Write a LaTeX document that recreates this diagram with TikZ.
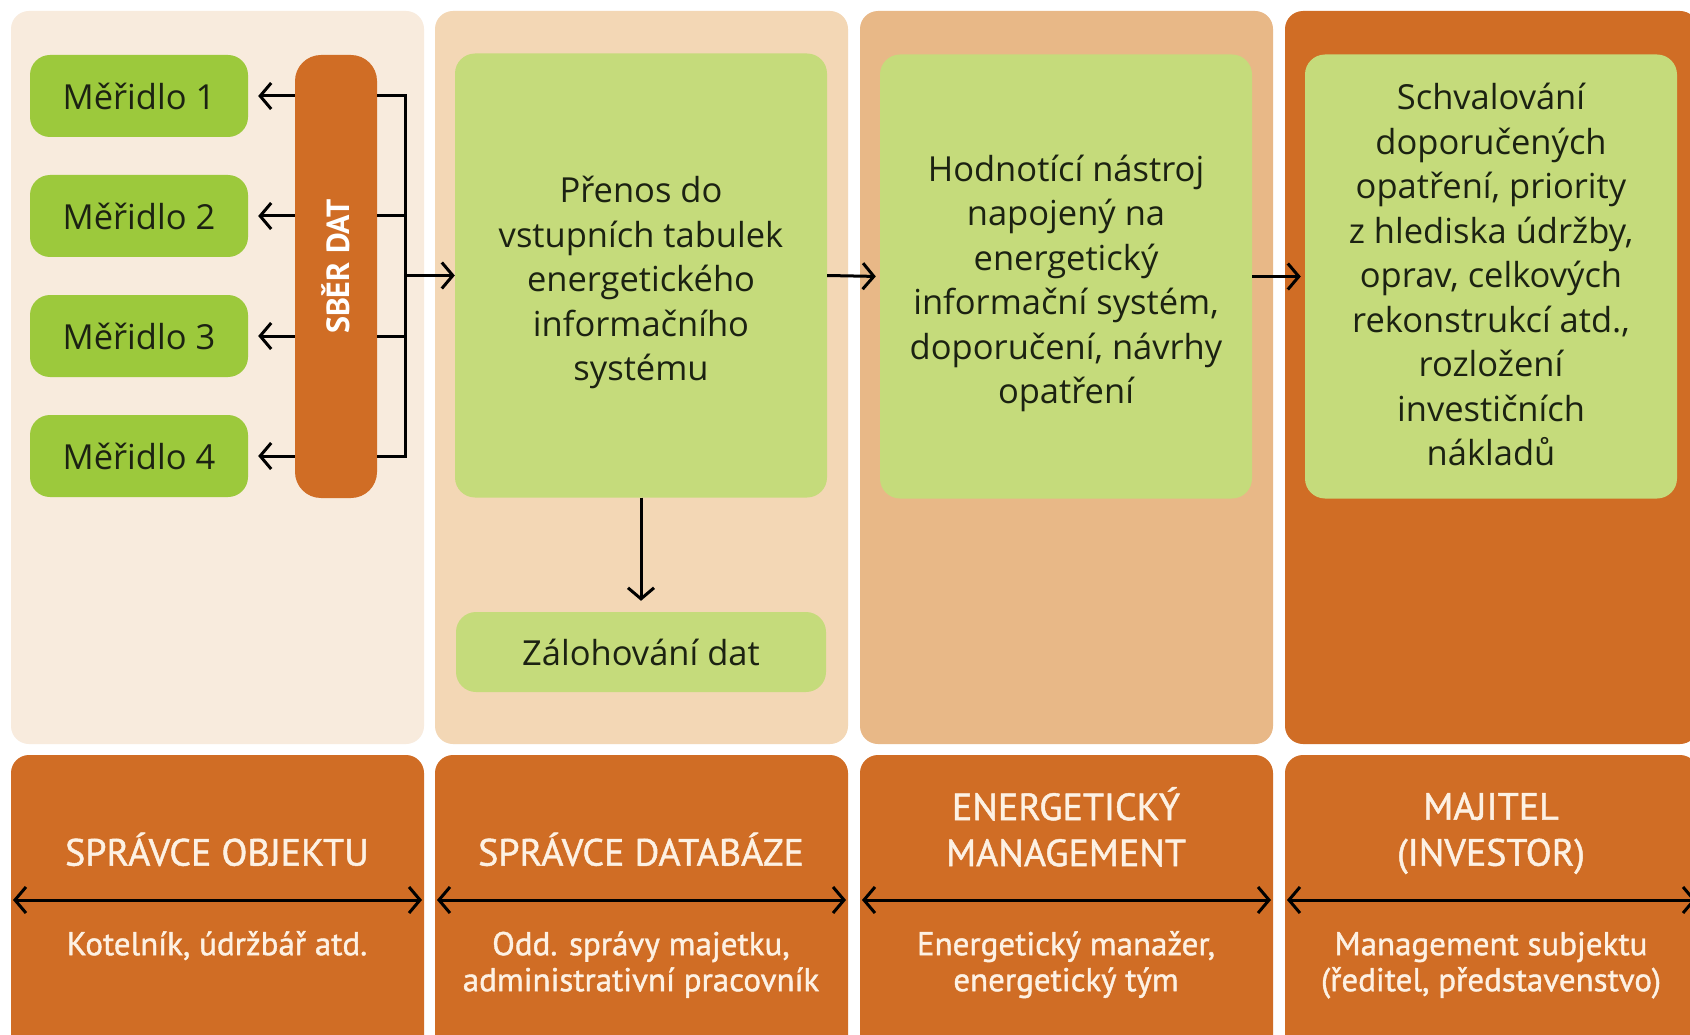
\documentclass[tikz,border=0pt]{standalone}
\usepackage{fontspec}
\setmainfont{Open Sans}
\newfontfamily\narrowfont[FakeBold=1.2]{PT Sans}
\newfontfamily\narrowbold{PT Sans Bold}
\usetikzlibrary{arrows.meta}
\definecolor{bgA}{HTML}{F8EBDD}
\definecolor{bgB}{HTML}{F3D7B5}
\definecolor{bgC}{HTML}{E8B887}
\definecolor{orng}{HTML}{D06D25}
\definecolor{gMeter}{HTML}{9CC93C}
\definecolor{gBig}{HTML}{C5DB7B}
\definecolor{txtDark}{HTML}{1C2212}
\definecolor{txtLight}{HTML}{FDF1E3}
\tikzset{
  panel/.style={rectangle, rounded corners=18pt, minimum width=413pt, inner sep=0pt},
  meter/.style={rectangle, rounded corners=20pt, fill=gMeter, minimum width=218pt, minimum height=82pt, inner sep=0pt, text=txtDark, font=\fontsize{34.5}{44}\selectfont},
  bigbox/.style={rectangle, rounded corners=20pt, fill=gBig, minimum width=372pt, minimum height=444pt, inner sep=0pt},
  boxtext/.style={text=txtDark, align=center, inner sep=0pt, font=\fontsize{34.5}{44.5}\selectfont},
  ttl/.style={text=txtLight, align=center, inner sep=0pt, font=\narrowfont\fontsize{38}{46}\selectfont},
  sub/.style={text=txtLight, align=center, inner sep=0pt, font=\narrowfont\fontsize{33}{36}\selectfont},
  arr/.style={line width=3pt, -{Straight Barb[length=11pt,width=26pt]}},
  plain/.style={line width=3pt},
  dbl/.style={line width=3pt, {Straight Barb[length=11pt,width=26pt]}-{Straight Barb[length=11pt,width=26pt]}}
}
\begin{document}
\begin{tikzpicture}[x=1pt,y=-1pt]
\useasboundingbox (0,0) rectangle (1690,1035);
\fill[white] (0,0) rectangle (1690,1035);
% top panels
\node[panel, fill=bgA, minimum height=733pt] (tp1) at (217.5,377.5) {};
\node[panel, fill=bgB, minimum height=733pt] (tp2) at (641.5,377.5) {};
\node[panel, fill=bgC, minimum height=733pt] (tp3) at (1066.5,377.5) {};
\node[panel, fill=orng, minimum height=733pt] (tp4) at (1491.5,377.5) {};
% bottom panels
\node[panel, fill=orng, minimum height=310pt] (bp1) at (217.5,910) {};
\node[panel, fill=orng, minimum height=310pt] (bp2) at (641.5,910) {};
\node[panel, fill=orng, minimum height=310pt] (bp3) at (1066.5,910) {};
\node[panel, fill=orng, minimum height=310pt] (bp4) at (1491.5,910) {};
% meters
\node[meter] (m1) at (139,96) {Měřidlo 1};
\node[meter] (m2) at (139,216) {Měřidlo 2};
\node[meter] (m3) at (139,336) {Měřidlo 3};
\node[meter] (m4) at (139,456) {Měřidlo 4};
\node[rectangle, rounded corners=26pt, fill=orng, minimum width=82pt, minimum height=443pt, inner sep=0pt] (sber) at (336,276.5) {};
\node[rotate=90, text=white, inner sep=0pt, font=\narrowbold\fontsize{32}{36}\selectfont] (sbert) at ([yshift=10pt]sber.center) {SBĚR DAT};
% big boxes
\node[bigbox] (prenos) at (641,275.5) {};
\node[boxtext] (prenosT) at ([yshift=-7pt]prenos.center) {Přenos do\\vstupních tabulek\\energetického\\informačního\\systému};
\node[bigbox] (hodn) at (1066,276.5) {};
\node[boxtext] (hodnT) at ([yshift=-7pt]hodn.center) {Hodnotící nástroj\\napojený na\\energetický\\informační systém,\\doporučení, návrhy\\opatření};
\node[bigbox] (schv) at (1491,276.5) {};
\node[boxtext] (schvT) at ([yshift=2pt]schv.center) {Schvalování\\doporučených\\opatření, priority\\z hlediska údržby,\\oprav, celkových\\rekonstrukcí atd.,\\rozložení\\investičních\\nákladů};
\node[bigbox, minimum height=80pt, minimum width=370pt] (zal) at (641,652) {};
\node[boxtext] (zalT) at (zal.center) {Zálohování dat};
% connectors left
\coordinate (bx) at (405,0);
\foreach \m in {m1,m2,m3,m4}{
  \draw[arr, shorten >=10pt] (sber.west |- \m.east) -- (\m.east);
  \draw[plain] (sber.east |- \m.east) -- (bx |- \m.east);
}
\draw[plain, line cap=rect] (bx |- m1.east) -- (bx |- m4.east);
\draw[arr] (bx |- prenos.west) -- (prenos.west);
\draw[arr, shorten >=4pt] (prenos.east) -- (hodn.west);
\draw[arr, shorten >=4pt] (hodn.east) -- (schv.west);
\draw[arr, shorten >=11pt] (prenos.south) -- (zal.north);
% bottom arrows
\coordinate (a1l) at (13,900); \coordinate (a1r) at (422,900);
\coordinate (a2l) at (437,900); \coordinate (a2r) at (846,900);
\coordinate (a3l) at (862,900); \coordinate (a3r) at (1271,900);
\coordinate (a4l) at (1287,900); \coordinate (a4r) at (1696,900);
\draw[dbl] (a1l) -- (a1r);
\draw[dbl] (a2l) -- (a2r);
\draw[dbl] (a3l) -- (a3r);
\draw[dbl] (a4l) -- (a4r);
% bottom texts
\node[ttl] (t1) at (217,856) {\strut SPRÁVCE OBJEKTU};
\node[ttl] (t2) at (641,856) {\strut SPRÁVCE DATABÁZE};
\node[ttl] (t3) at (1066,833.5) {\strut ENERGETICKÝ\\\strut MANAGEMENT};
\node[ttl] (t4) at (1491,833.5) {\strut MAJITEL\\\strut (INVESTOR)};
\node[sub] (s1) at (217,948) {\strut Kotelník, údržbář atd.};
\node[sub] (s2) at (641,966) {\strut Odd. správy majetku,\\\strut administrativní pracovník};
\node[sub] (s3) at (1066,966) {\strut Energetický manažer,\\\strut energetický tým};
\node[sub] (s4) at (1491,966) {\strut Management subjektu\\\strut (ředitel, představenstvo)};
\end{tikzpicture}
\end{document}
